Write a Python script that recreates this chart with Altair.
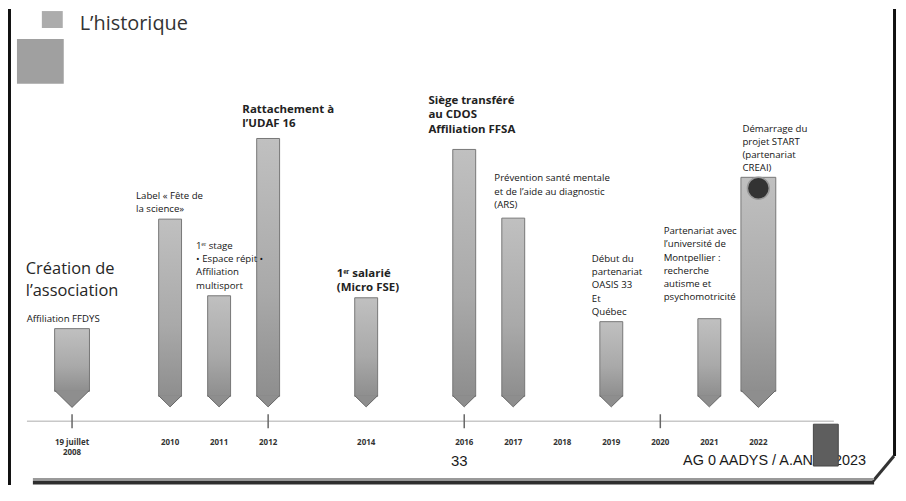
import altair as alt
import pandas as pd

# ---------------- Données ----------------
# Événements : année et hauteur du sommet de la flèche au-dessus de la frise
annees = [2008, 2010, 2011, 2012, 2014, 2016, 2017, 2019, 2021, 2022]
hauteurs = [93, 203, 126, 284, 124, 273, 204, 100, 103, 245]
annees_larges = [2008, 2022]

# Frise chronologique
etiquettes = ["19 juillet\n2008", "2010", "2011", "2012", "2014", "2016",
              "2017", "2018", "2019", "2020", "2021", "2022"]
etiquettes_pos = [2008, 2010, 2011, 2012, 2014, 2016, 2017, 2018, 2019, 2020, 2021, 2022]
graduations = [2008, 2012, 2016, 2020]
frise_debut = [2007.08]
frise_fin = [2023.54]

# Annotations (petit texte)
annot_petit_textes = [
    "Affiliation FFDYS",
    "Label « Fête de\nla science»",
    "1ᵉʳ stage\n• Espace répit •\nAffiliation\nmultisport",
    "Prévention santé mentale\net de l’aide au diagnostic\n(ARS)",
    "Début du\npartenariat\nOASIS 33\nEt\nQuébec",
    "Partenariat avec\nl’université de\nMontpellier :\nrecherche\nautisme et\npsychomotricité",
    "Démarrage du\nprojet START\n(partenariat\nCREAI)",
]
annot_petit_x = [2007.076, 2009.305, 2010.530, 2016.614, 2018.602, 2020.068, 2021.675]
annot_petit_y = [108, 231, 181, 249, 168, 196, 299]

# Annotations (texte moyen)
annot_moyen_textes = [
    "Rattachement à\nl’UDAF 16",
    "1ᵉʳ salarié\n(Micro FSE)",
    "Siège transféré\nau CDOS\nAffiliation FFSA",
]
annot_moyen_x = [2011.474, 2013.402, 2015.269]
annot_moyen_y = [319, 154, 328]

# Titre de l'événement fondateur
creation_texte = ["Création de\nl’association"]
creation_x = [2007.056]
creation_y = [161]

# Logo sur la dernière flèche
logo_annee = [2022]
logo_hauteur = [234]

# ---------------- Construction ----------------
W, H = 894, 478
xs = alt.Scale(domain=[2006.795, 2024.747], nice=False, zero=False)
ys = alt.Scale(domain=[-64, 414], nice=False, zero=False)

ev = pd.DataFrame({"annee": annees, "hauteur": hauteurs})
larges = ev[ev["annee"].isin(annees_larges)]
etroites = ev[~ev["annee"].isin(annees_larges)]

X = lambda f: alt.X(f, scale=xs, axis=None)
Y = lambda f: alt.Y(f, scale=ys, axis=None)

grad = {
    "gradient": "linear",
    "x1": 0, "y1": 0, "x2": 0, "y2": 1,
    "stops": [{"offset": 0, "color": "#c0c0c0"},
              {"offset": 0.6, "color": "#a9a9a9"},
              {"offset": 1, "color": "#8e8e8e"}],
}
tip_shape = "M-1,-0.06L0,0.92L1,-0.06"

def corps(df, w, bas):
    return alt.Chart(df).transform_calculate(bas=str(bas)).mark_bar(
        size=w, color=grad, stroke="#777777", strokeWidth=1).encode(
        x=X("annee:Q"), y=Y("hauteur:Q"), y2="bas:Q")

def pointe(df, w, bas):
    return alt.Chart(df).transform_calculate(bas=str(bas)).mark_point(
        shape=tip_shape, filled=True, fill="#8e8e8e",
        stroke="#666666", strokeWidth=1, opacity=1, size=w * w).encode(
        x=X("annee:Q"), y=Y("bas:Q"))

one = pd.DataFrame({"k": [0]})

def deco_rule(x1, x2, y1, y2, color, w):
    return alt.Chart(one).mark_rule(color=color, strokeWidth=w).encode(
        x=alt.value(x1), x2=alt.value(x2), y=alt.value(y1), y2=alt.value(y2))

def deco_rect(x1, x2, y1, y2, fill, stroke=None):
    kw = {"fill": fill}
    if stroke:
        kw["stroke"] = stroke
    return alt.Chart(one).mark_rect(**kw).encode(
        x=alt.value(x1), x2=alt.value(x2), y=alt.value(y1), y2=alt.value(y2))

def deco_text(x, y, txt, **kw):
    return alt.Chart(one).mark_text(text=txt, **kw).encode(x=alt.value(x), y=alt.value(y))

# frise
frise = alt.Chart(pd.DataFrame({"d": frise_debut, "f": frise_fin})).transform_calculate(
    z="0").mark_rule(color="#c8c8c8", strokeWidth=1.5).encode(
    x=X("d:Q"), x2=alt.X2("f"), y=Y("z:Q"))
ticks = alt.Chart(pd.DataFrame({"annee": graduations})).transform_calculate(
    b="-7", h="7").mark_rule(color="#666666", strokeWidth=1.5).encode(
    x=X("annee:Q"), y=Y("b:Q"), y2=alt.Y2("h"))
labels = alt.Chart(pd.DataFrame({"t": etiquettes, "annee": etiquettes_pos})).transform_calculate(
    yy="-18").mark_text(
    align="center", baseline="top", lineBreak="\n", font="Open Sans", fontSize=8,
    fontWeight="bold", lineHeight=10, color="#333333").encode(
    x=X("annee:Q"), y=Y("yy:Q"), text="t:N")

ann_p = alt.Chart(pd.DataFrame({"t": annot_petit_textes, "x": annot_petit_x, "y": annot_petit_y})).mark_text(
    align="left", baseline="top", lineBreak="\n", font="Open Sans", fontSize=9.7,
    lineHeight=13.3, color="#151515").encode(x=X("x:Q"), y=Y("y:Q"), text="t:N")
ann_m = alt.Chart(pd.DataFrame({"t": annot_moyen_textes, "x": annot_moyen_x, "y": annot_moyen_y})).mark_text(
    align="left", baseline="top", lineBreak="\n", font="Open Sans", fontSize=11.5,
    fontWeight="bold", lineHeight=14.5, color="#222222").encode(x=X("x:Q"), y=Y("y:Q"), text="t:N")
creation = alt.Chart(pd.DataFrame({"t": creation_texte, "x": creation_x, "y": creation_y})).mark_text(
    align="left", baseline="top", lineBreak="\n", font="Open Sans", fontSize=16.5,
    lineHeight=22, color="#262626").encode(x=X("x:Q"), y=Y("y:Q"), text="t:N")

logo = alt.Chart(pd.DataFrame({"annee": logo_annee, "h": logo_hauteur})).mark_point(
    shape="circle", filled=True, fill="#333333", stroke="#9a9a9a", strokeWidth=1.5,
    opacity=1, size=484).encode(x=X("annee:Q"), y=Y("h:Q"))

layers = [
    # cadre et en-tête
    deco_rect(34, 55, 2, 19, "#acacac"),
    deco_rect(9, 56, 30, 75, "#a0a0a0"),
    deco_text(72, 21.5, "L’historique", align="left", baseline="alphabetic",
              font="Open Sans", fontSize=20, color="#333333"),
    deco_rule(1.5, 1.5, 0, H, "#111111", 3),
    deco_rule(890.5, 890.5, 0, 449, "#111111", 3),
    deco_rule(890, 869, 449, 474, "#333333", 3),
    deco_rule(25, 870, 472, 472, "#9a9a9a", 2),
    deco_rule(25, 870, 475.5, 475.5, "#2e2e2e", 4),
    # frise
    frise, ticks, labels,
    # flèches
    corps(etroites, 23, 25), pointe(etroites, 23, 25),
    corps(larges, 35, 30), pointe(larges, 35, 30),
    logo,
    # textes
    ann_p, ann_m, creation,
    # pied de page
    deco_text(445, 454, "33", align="left", baseline="middle",
              font="Liberation Sans", fontSize=15, color="#1a1a1a"),
    deco_text(862, 454, "AG 0 AADYS / A.ANAT 2023", align="right", baseline="middle",
              font="Liberation Sans", fontSize=14.5, color="#1a1a1a"),
    deco_rect(809, 834, 417, 459, "#5e5e5e", "#474747"),
]

chart = alt.layer(*layers).properties(
    width=W, height=H, padding=0, background="white",
    autosize=alt.AutoSizeParams(type="none"),
).configure_view(strokeWidth=0)

chart.save("out.html", embed_options={"renderer": "svg", "actions": False})
